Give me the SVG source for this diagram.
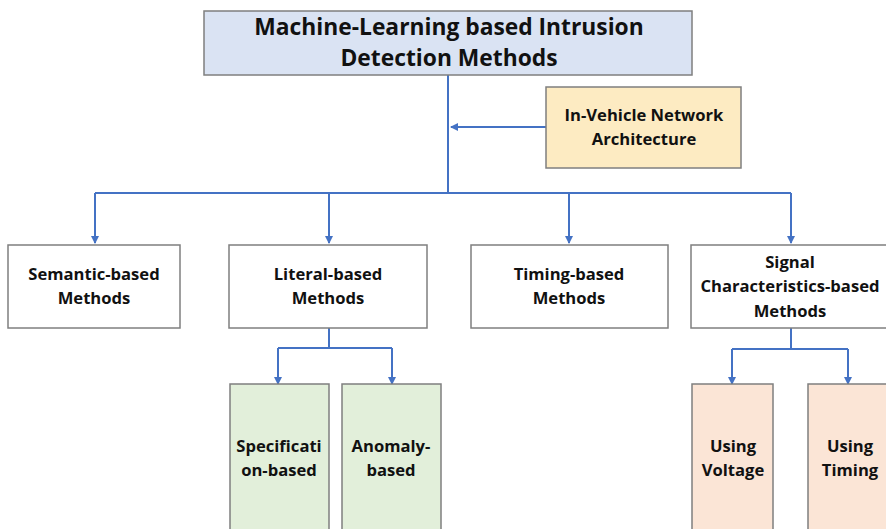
<svg xmlns="http://www.w3.org/2000/svg" width="886" height="529" viewBox="0 0 886 529">
<style>
.box{stroke:#7f7f7f;stroke-width:1.5}
.t{font-family:"Open Sans","Liberation Sans",sans-serif;font-weight:bold;fill:#111;text-anchor:middle}
.s{font-size:16.6px}
.c{fill:none;stroke:#4472c4;stroke-width:2}
</style>
<defs>
<marker id="ah" markerWidth="8" markerHeight="8" refX="7" refY="4" orient="auto" markerUnits="userSpaceOnUse">
<path d="M0,0 L8,4 L0,8 Z" fill="#4472c4"/>
</marker>
</defs>
<rect width="886" height="529" fill="#fff"/>
<g id="connectors">
<path class="c" d="M448,75 V193"/>
<path class="c" d="M546,127 H451" marker-end="url(#ah)"/>
<path class="c" d="M95,193 H791"/>
<path class="c" d="M95,193 V243" marker-end="url(#ah)"/>
<path class="c" d="M329,193 V243" marker-end="url(#ah)"/>
<path class="c" d="M569,193 V243" marker-end="url(#ah)"/>
<path class="c" d="M791,193 V243" marker-end="url(#ah)"/>
<path class="c" d="M329,328 V348 M278,348 H392"/>
<path class="c" d="M278,348 V384" marker-end="url(#ah)"/>
<path class="c" d="M392,348 V384" marker-end="url(#ah)"/>
<path class="c" d="M791,328 V349 M732,349 H848"/>
<path class="c" d="M732,349 V384" marker-end="url(#ah)"/>
<path class="c" d="M848,349 V384" marker-end="url(#ah)"/>
</g>
<g id="root">
<rect class="box" x="204" y="11" width="488" height="64" fill="#dae3f3"/>
<text class="t" x="449" y="35" font-size="22.8">Machine-Learning based Intrusion</text>
<text class="t" x="449" y="66" font-size="22.8">Detection Methods</text>
</g>
<g id="invehicle">
<rect class="box" x="546" y="87" width="195" height="81" fill="#fdebc2"/>
<text class="t s" x="644" y="121">In-Vehicle Network</text>
<text class="t s" x="644" y="145">Architecture</text>
</g>
<g id="semantic">
<rect class="box" x="8" y="245" width="172" height="83" fill="#fff"/>
<text class="t s" x="94" y="280">Semantic-based</text>
<text class="t s" x="94" y="304">Methods</text>
</g>
<g id="literal">
<rect class="box" x="229" y="245" width="198" height="83" fill="#fff"/>
<text class="t s" x="328" y="280">Literal-based</text>
<text class="t s" x="328" y="304">Methods</text>
</g>
<g id="timing">
<rect class="box" x="471" y="245" width="197" height="83" fill="#fff"/>
<text class="t s" x="569" y="280">Timing-based</text>
<text class="t s" x="569" y="304">Methods</text>
</g>
<g id="signal">
<rect class="box" x="691" y="245" width="200" height="83" fill="#fff"/>
<text class="t s" x="790" y="268">Signal</text>
<text class="t s" x="790" y="292">Characteristics-based</text>
<text class="t s" x="790" y="317">Methods</text>
</g>
<g id="specification">
<rect class="box" x="230" y="384" width="99" height="150" fill="#e2efda"/>
<text class="t s" x="279" y="452">Specificati</text>
<text class="t s" x="279" y="476">on-based</text>
</g>
<g id="anomaly">
<rect class="box" x="342" y="384" width="99" height="150" fill="#e2efda"/>
<text class="t s" x="391" y="452">Anomaly-</text>
<text class="t s" x="391" y="476">based</text>
</g>
<g id="voltage">
<rect class="box" x="692" y="384" width="81" height="150" fill="#fbe5d6"/>
<text class="t s" x="733" y="452">Using</text>
<text class="t s" x="733" y="476">Voltage</text>
</g>
<g id="usingtiming">
<rect class="box" x="808" y="384" width="90" height="150" fill="#fbe5d6"/>
<text class="t s" x="850" y="452">Using</text>
<text class="t s" x="850" y="476">Timing</text>
</g>
</svg>
